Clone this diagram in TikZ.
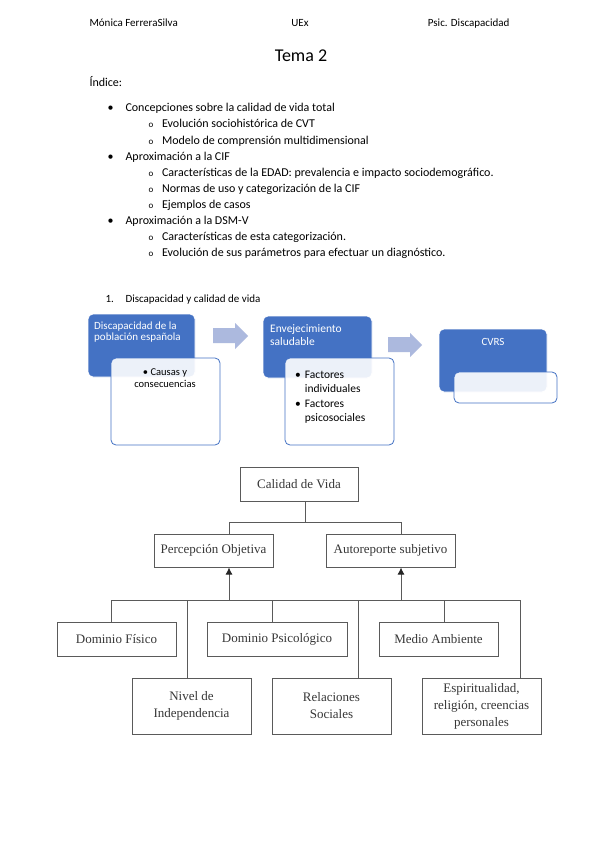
\documentclass[tikz,border=0pt]{standalone}
\usepackage{fontspec}
\setmainfont{Carlito}
\newfontfamily\treefont{Liberation Serif}
\usetikzlibrary{arrows.meta}
\usepackage{xcolor}
\definecolor{smartblue}{RGB}{68,114,196}
\definecolor{arrowblue}{RGB}{172,185,222}
\definecolor{treegray}{RGB}{90,90,90}
\definecolor{treetext}{RGB}{55,55,55}

\tikzset{
  bodytext/.style={anchor=base west, font=\fontsize{12}{14.5}\selectfont},
  headtext/.style={font=\fontsize{11}{13}\selectfont},
  bluebox/.style={draw=white, fill=smartblue, rounded corners=5pt, line width=0.8pt},
  notebox/.style={draw=smartblue, fill=white, fill opacity=0.9, rounded corners=5pt, line width=0.8pt},
  bluetext/.style={text=white, align=left, inner sep=0pt},
  treebox/.style={draw=treegray, line width=1pt, align=center, text=treetext,
    font=\treefont\fontsize{13}{17}\selectfont, minimum height=34pt, inner sep=0pt},
  treeline/.style={draw=treegray, line width=1pt},
  treearrow/.style={treeline, -{Latex[length=7pt,width=7pt,color=black!85]}},
}

\begin{document}
\begin{tikzpicture}[x=1pt,y=-1pt]
    \useasboundingbox (0,0) rectangle (599,848);
    \fill[white] (0,0) rectangle (599,848);

    % Page header
    \node[headtext, anchor=base west] (author) at (86,27) {Mónica FerreraSilva};
    \node[headtext, anchor=base] (uni) at (300,27) {UEx};
    \node[headtext, anchor=base east] (subject) at (513,27) {Psic. Discapacidad};
    \node[anchor=base, font=\fontsize{18}{21}\selectfont] (title) at (301,62) {Tema 2};

    % Index
    \node[bodytext] (index) at (86,86.5) {Índice:};
    \node[bodytext] (item1) at (104,112) {\makebox[18pt][l]{\textbullet}Concepciones sobre la calidad de vida total};
    \node[bodytext] (item1a) at (145,128) {\makebox[13.5pt][l]{\small o}Evolución sociohistórica de CVT};
    \node[bodytext] (item1b) at (145,144) {\makebox[13.5pt][l]{\small o}Modelo de comprensión multidimensional};
    \node[bodytext] (item2) at (104,160) {\makebox[18pt][l]{\textbullet}Aproximación a la CIF};
    \node[bodytext] (item2a) at (145,176) {\makebox[13.5pt][l]{\small o}Características de la EDAD: prevalencia e impacto sociodemográfico.};
    \node[bodytext] (item2b) at (145,192) {\makebox[13.5pt][l]{\small o}Normas de uso y categorización de la CIF};
    \node[bodytext] (item2c) at (145,208) {\makebox[13.5pt][l]{\small o}Ejemplos de casos};
    \node[bodytext] (item3) at (104,224) {\makebox[18pt][l]{\textbullet}Aproximación a la DSM-V};
    \node[bodytext] (item3a) at (145,240) {\makebox[13.5pt][l]{\small o}Características de esta categorización.};
    \node[bodytext] (item3b) at (145,256) {\makebox[13.5pt][l]{\small o}Evolución de sus parámetros para efectuar un diagnóstico.};

    % Section 1
    \node[headtext, anchor=base west] (section) at (102,302) {\makebox[20pt][l]{1.}Discapacidad y calidad de vida};

    % Process boxes
    \node[bluebox, minimum width=107pt, minimum height=63pt] (disc) at (141.5,345.5) {};
    \node[notebox, minimum width=109pt, minimum height=87pt] (discnote) at (165.5,401.5) {};
    \node[bluetext, anchor=north west, font=\fontsize{11}{11.5}\selectfont] (disctext) at (94,321.5) {Discapacidad de la\\población española};
    \node[anchor=north, align=center, inner sep=0pt, font=\fontsize{10.5}{11.5}\selectfont] (disclist) at (165,368.5) {\textbullet\ Causas y\\consecuencias};

    \node[bluebox, minimum width=109pt, minimum height=62pt] (aging) at (317.5,347) {};
    \node[notebox, minimum width=109pt, minimum height=87pt] (agingnote) at (339.5,401.5) {};
    \node[bluetext, anchor=north west, font=\fontsize{11.5}{13}\selectfont] (agingtext) at (270,324) {Envejecimiento\\saludable};
    \node[anchor=north west, inner sep=0pt, font=\fontsize{11.5}{14.5}\selectfont] (aginglist) at (295,368)
        {\begin{tabular}{@{}l@{\hspace{4pt}}l@{}}\textbullet & Factores\\ & individuales\\ \textbullet & Factores\\ & psicosociales\end{tabular}};

    \node[bluebox, minimum width=108pt, minimum height=63pt] (cvrs) at (493,360.5) {};
    \node[notebox, minimum width=103pt, minimum height=31pt] (cvrsnote) at (505.5,387.5) {};
    \node[text=white, font=\fontsize{11}{12}\selectfont] (cvrstext) at (493,342) {CVRS};

    % Block arrows
    \fill[arrowblue] (213,328) -- (235,328) -- (235,323) -- (248,336) -- (235,349) -- (235,343) -- (213,343) -- cycle;
    \fill[arrowblue] (388,337) -- (410,337) -- (410,333) -- (422,345) -- (410,357) -- (410,352) -- (388,352) -- cycle;

    % Quality of life tree
    \node[treebox, minimum width=118pt] (qol) at (299,484) {Calidad de Vida};
    \node[treebox, minimum width=119pt, minimum height=33pt] (objective) at (213.5,550.5) {Percepción Objetiva};
    \node[treebox, minimum width=129pt, minimum height=33pt] (subjective) at (390.5,550.5) {Autoreporte subjetivo};
    \node[treebox, minimum width=119pt] (physical) at (116.5,639) {Dominio Físico};
    \node[treebox, minimum width=140pt] (psych) at (277,639) {Dominio Psicológico};
    \node[treebox, minimum width=119pt] (environment) at (438.5,639) {Medio Ambiente};
    \node[treebox, minimum width=119pt, minimum height=56pt] (independence) at (191.5,706) {Nivel de\\Independencia};
    \node[treebox, minimum width=119pt, minimum height=56pt] (social) at (331.5,706) {Relaciones\\Sociales};
    \node[treebox, minimum width=119pt, minimum height=56pt] (spiritual) at (481.5,706) {Espiritualidad,\\religión, creencias\\personales};

    % Upper joins
    \coordinate (qoljoin) at (305,522);
    \coordinate (objjoin) at (229,522);
    \coordinate (subjoin) at (401,522);
    \draw[treeline] (qoljoin |- qol.south) -- (qoljoin);
    \draw[treeline] (objjoin |- objective.north) -- (objjoin) -- (subjoin) -- (subjoin |- subjective.north);

    % Lower bus and arrows
    \coordinate (busleft) at (111,600);
    \coordinate (busright) at (520,600);
    \coordinate (objarrow) at (229,600);
    \coordinate (subarrow) at (401,600);
    \draw[treeline] (busleft) -- (busright);
    \draw[treearrow] (objarrow) -- (objarrow |- objective.south);
    \draw[treearrow] (subarrow) -- (subarrow |- subjective.south);

    % Drops to domains
    \coordinate (physdrop) at (111,600);
    \coordinate (inddrop) at (187,600);
    \coordinate (psydrop) at (272,600);
    \coordinate (socdrop) at (358,600);
    \coordinate (envdrop) at (444,600);
    \coordinate (spidrop) at (520,600);
    \draw[treeline] (physdrop) -- (physdrop |- physical.north);
    \draw[treeline] (inddrop) -- (inddrop |- independence.north);
    \draw[treeline] (psydrop) -- (psydrop |- psych.north);
    \draw[treeline] (socdrop) -- (socdrop |- social.north);
    \draw[treeline] (envdrop) -- (envdrop |- environment.north);
    \draw[treeline] (spidrop) -- (spidrop |- spiritual.north);
\end{tikzpicture}
\end{document}
